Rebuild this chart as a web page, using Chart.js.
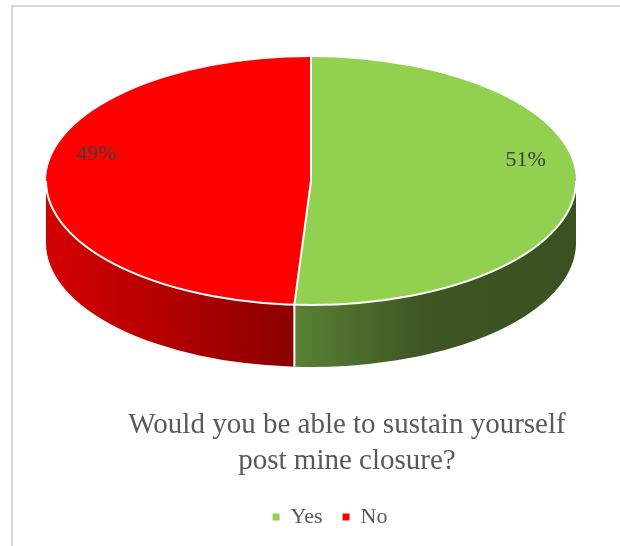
<!DOCTYPE html>
<html>
<head>
<meta charset="utf-8">
<title>Post mine closure</title>
<script src="https://cdn.jsdelivr.net/npm/chart.js@4.4.1/dist/chart.umd.min.js"></script>
<style>
  html, body { margin: 0; padding: 0; background: #fff; }
  canvas { display: block; }
</style>
</head>
<body>
<canvas id="grafico" width="620" height="546"></canvas>
<script>
// datos
const categories = ['Yes', 'No'];
const shares = [51, 49];
const titleLines = ['Would you be able to sustain yourself', 'post mine closure?'];

// colores: cara superior y pared lateral (degradado izquierda -> derecha)
const topColors = ['#92D050', '#FF0000'];
const wallColors = [
    [[0, '#5A8135'], [0.45, '#3D5623'], [1, '#3A5020']],
    [[0, '#D40000'], [0.5, '#B20000'], [1, '#8A0000']]
];

// geometria de la elipse
const EX = 311, EY = 181, RX = 265, RY = 124, DEPTH = 62;
const LABEL_R = 0.81, LABEL_DY = -24;
const SERIF = "'Liberation Serif', 'Times New Roman', Times, serif";

const pie3d = {
    id: 'pie3d',
    beforeDraw(chart) {
        // marco gris
        const ctx = chart.ctx;
        ctx.save();
        ctx.strokeStyle = '#DADADA';
        ctx.lineWidth = 2;
        ctx.strokeRect(12, 6, 700, 600);
        ctx.restore();
    },
    afterLayout(chart) {
        // la leyenda va un poco a la izquierda del titulo
        chart.legend.left -= 17;
        chart.legend.right -= 17;
    },
    beforeDatasetsDraw(chart) {
        const ctx = chart.ctx;
        const meta = chart.getDatasetMeta(0);

        // paredes laterales (solo la mitad delantera)
        meta.data.forEach(function (arc, i) {
            const s = Math.max(arc.startAngle, 0);
            const e = Math.min(arc.endAngle, Math.PI);
            if (e <= s) return;
            const x1 = EX + RX * Math.cos(s), x2 = EX + RX * Math.cos(e);
            const grad = ctx.createLinearGradient(Math.min(x1, x2), 0, Math.max(x1, x2), 0);
            wallColors[i].forEach(function (st) { grad.addColorStop(st[0], st[1]); });
            ctx.beginPath();
            ctx.ellipse(EX, EY, RX, RY, 0, s, e);
            ctx.ellipse(EX, EY + DEPTH, RX, RY, 0, e, s, true);
            ctx.closePath();
            ctx.fillStyle = grad;
            ctx.fill();
        });

        // aplastar el circulo en elipse
        const a = meta.data[0];
        ctx.save();
        ctx.translate(EX, EY);
        ctx.scale(RX / a.outerRadius, RY / a.outerRadius);
        ctx.translate(-a.x, -a.y);
    },
    afterDatasetsDraw(chart) {
        const ctx = chart.ctx;
        ctx.restore();
        const meta = chart.getDatasetMeta(0);

        // bordes blancos
        ctx.save();
        ctx.strokeStyle = '#FFFFFF';
        ctx.lineWidth = 2;
        ctx.beginPath();
        ctx.ellipse(EX, EY, RX, RY, 0, 0, Math.PI);
        ctx.stroke();
        meta.data.forEach(function (arc) {
            const ang = arc.startAngle;
            const px = EX + RX * Math.cos(ang), py = EY + RY * Math.sin(ang);
            ctx.beginPath();
            ctx.moveTo(EX, EY);
            ctx.lineTo(px, py);
            if (ang > 0 && ang < Math.PI) {
                ctx.moveTo(px, py);
                ctx.lineTo(px, py + DEPTH);
            }
            ctx.stroke();
        });

        // etiquetas de porcentaje
        ctx.font = '22px ' + SERIF;
        ctx.fillStyle = '#404040';
        ctx.textAlign = 'center';
        ctx.textBaseline = 'middle';
        meta.data.forEach(function (arc, i) {
            const mid = (arc.startAngle + arc.endAngle) / 2;
            const x = EX + RX * LABEL_R * Math.cos(mid);
            const y = EY + RY * LABEL_R * Math.sin(mid) + LABEL_DY;
            ctx.fillText(shares[i] + '%', x, y);
        });
        ctx.restore();
    }
};

const ctx = document.getElementById('grafico').getContext('2d');
const grafico = new Chart(ctx, {
    type: 'pie',
    data: {
        labels: categories,
        datasets: [{
            data: shares,
            backgroundColor: topColors,
            borderWidth: 0,
            clip: false
        }]
    },
    options: {
        responsive: false,
        animation: false,
        events: [],
        layout: {
            padding: { left: 74, right: 0, top: 0, bottom: 8 }
        },
        plugins: {
            tooltip: { enabled: false },
            title: {
                display: true,
                position: 'bottom',
                weight: 100,
                text: titleLines,
                color: '#595959',
                font: { family: SERIF, size: 29, weight: 'normal', lineHeight: 1.24 },
                padding: { top: 10, bottom: 7 }
            },
            legend: {
                position: 'bottom',
                labels: {
                    color: '#595959',
                    boxWidth: 7,
                    boxHeight: 7,
                    padding: 20,
                    font: { family: SERIF, size: 22 }
                }
            }
        }
    },
    plugins: [pie3d]
});
</script>
</body>
</html>
